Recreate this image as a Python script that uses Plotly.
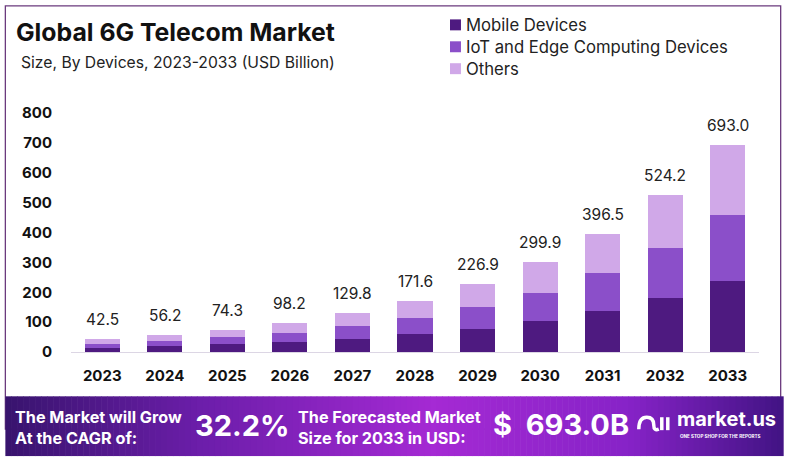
import plotly.graph_objects as go

years = ["2023", "2024", "2025", "2026", "2027", "2028", "2029", "2030", "2031", "2032", "2033"]
mobile = [14.6, 19.3, 25.5, 33.7, 44.5, 58.9, 77.8, 102.9, 136.0, 179.8, 237.7]
iot = [13.6, 18.0, 23.8, 31.4, 41.5, 54.9, 72.6, 96.0, 126.9, 167.7, 221.8]
others = [14.3, 18.9, 25.0, 33.1, 43.8, 57.8, 76.5, 101.0, 133.6, 176.7, 233.5]
totals = [42.5, 56.2, 74.3, 98.2, 129.8, 171.6, 226.9, 299.9, 396.5, 524.2, 693.0]
y_ticks = [0, 100, 200, 300, 400, 500, 600, 700, 800]
series_names = ["Mobile Devices", "IoT and Edge Computing Devices", "Others"]
colors = ["#4e1a80", "#8b4fc9", "#d0a8e8"]

W, H = 790, 463
ML, MR, MT, MB = 70.7, 30.7, 112.5, 110.5
PW = W - ML - MR
PH = H - MT - MB


def px(x):
    return (x - ML) / PW


def py(y):
    return (H - MB - y) / PH


FONT = "Inter"
fig = go.Figure()
for name, vals, col in zip(series_names, [mobile, iot, others], colors):
    fig.add_trace(go.Bar(x=years, y=vals, name=name, marker=dict(color=col, line=dict(width=0)),
                         width=0.56, showlegend=False))

annotations = []
for i, t in enumerate(totals):
    annotations.append(dict(x=i, y=t, xref="x", yref="y", text=f"{t:.1f}", showarrow=False,
                            yanchor="bottom", yshift=8, font=dict(family=FONT, size=15.5, color="#222222")))

# Title & subtitle
annotations.append(dict(x=px(14), y=py(31), xref="paper", yref="paper", xanchor="left", yanchor="middle",
                        text="<b>Global 6G Telecom Market</b>", showarrow=False,
                        font=dict(family=FONT, size=24.8, color="#111111")))
annotations.append(dict(x=px(19), y=py(62), xref="paper", yref="paper", xanchor="left", yanchor="middle",
                        text="Size, By Devices, 2023-2033 (USD Billion)", showarrow=False,
                        font=dict(family=FONT, size=15.7, color="#222222")))

shapes = []
# Manual legend
for i, (name, col) in enumerate(zip(series_names, colors)):
    yc = 24 + 22 * i
    shapes.append(dict(type="rect", xref="paper", yref="paper", x0=px(450), x1=px(461),
                       y0=py(yc - 5.5), y1=py(yc + 5.5), fillcolor=col, line=dict(width=0)))
    annotations.append(dict(x=px(464), y=py(yc), xref="paper", yref="paper", xanchor="left", yanchor="middle",
                            text=name, showarrow=False, font=dict(family=FONT, size=16.7, color="#222222")))

# Frame
shapes.append(dict(type="rect", xref="paper", yref="paper", x0=px(5), x1=px(781), y0=py(5), y1=py(430),
                   line=dict(color="#6b3a7d", width=1.3), fillcolor="rgba(0,0,0,0)", layer="below"))

# Banner gradient
stops = [(0.0, (56, 20, 110)), (0.25, (108, 30, 170)), (0.55, (165, 42, 212)), (0.8, (135, 35, 200)),
         (1.0, (66, 20, 132))]


def grad(t):
    for (a, ca), (b, cb) in zip(stops[:-1], stops[1:]):
        if a <= t <= b:
            f = (t - a) / (b - a)
            c = [int(ca[k] + (cb[k] - ca[k]) * f) for k in range(3)]
            return f"rgb({c[0]},{c[1]},{c[2]})"
    return "rgb(66,20,132)"


N = 130
bx0, bx1 = 5, 784
for i in range(N):
    x0 = bx0 + (bx1 - bx0) * i / N
    x1 = bx0 + (bx1 - bx0) * (i + 1) / N + 0.6
    shapes.append(dict(type="rect", xref="paper", yref="paper", x0=px(x0), x1=px(min(x1, bx1)),
                       y0=py(397), y1=py(457), fillcolor=grad((i + 0.5) / N), line=dict(width=0)))

# Banner texts
annotations.append(dict(x=px(13), y=py(428), xref="paper", yref="paper", xanchor="left", yanchor="middle",
                        align="left", text="<b>The Market will Grow<br>At the CAGR of:</b>", showarrow=False,
                        font=dict(family=FONT, size=16.2, color="white")))
annotations.append(dict(x=px(193), y=py(426), xref="paper", yref="paper", xanchor="left", yanchor="middle",
                        text="<b>32.2%</b>", showarrow=False, font=dict(family=FONT, size=29, color="white")))
annotations.append(dict(x=px(296), y=py(428), xref="paper", yref="paper", xanchor="left", yanchor="middle",
                        align="left", text="<b>The Forecasted Market<br>Size for 2033 in USD:</b>", showarrow=False,
                        font=dict(family=FONT, size=16.2, color="white")))
annotations.append(dict(x=px(491), y=py(425), xref="paper", yref="paper", xanchor="left", yanchor="middle",
                        text="<b>$&nbsp; 693.0B</b>", showarrow=False, font=dict(family=FONT, size=29, color="white")))
annotations.append(dict(x=px(675), y=py(420), xref="paper", yref="paper", xanchor="left", yanchor="middle",
                        text="<b>market.us</b>", showarrow=False, font=dict(family=FONT, size=20, color="white")))
annotations.append(dict(x=px(678), y=py(437), xref="paper", yref="paper", xanchor="left", yanchor="middle",
                        text="<b>ONE STOP SHOP FOR THE REPORTS</b>", showarrow=False,
                        font=dict(family=FONT, size=4.6, color="white")))

# Logo glyph
def P(x, y):
    return f"{px(x):.5f},{py(y):.5f}"


logo_path = (f"M {P(639, 430)} Q {P(639, 418)} {P(647, 418)} Q {P(654, 418)} {P(654, 426)} "
             f"Q {P(654, 432)} {P(659, 430)}")
shapes.append(dict(type="path", xref="paper", yref="paper", path=logo_path,
                   line=dict(color="white", width=3.5)))
shapes.append(dict(type="line", xref="paper", yref="paper", x0=px(662), x1=px(662), y0=py(418), y1=py(431),
                   line=dict(color="white", width=3.5)))
shapes.append(dict(type="line", xref="paper", yref="paper", x0=px(668), x1=px(668), y0=py(418), y1=py(431),
                   line=dict(color="white", width=3.5)))

fig.update_layout(
    width=W, height=H,
    margin=dict(l=ML, r=MR, t=MT, b=MB, pad=0),
    barmode="stack",
    bargap=0.44,
    plot_bgcolor="white", paper_bgcolor="white",
    annotations=annotations, shapes=shapes,
    xaxis=dict(type="category", range=[-0.5, len(years) - 0.5], showgrid=False, showline=True,
               linecolor="#dcd6e4", linewidth=1.2, ticks="",
               tickfont=dict(family=FONT, size=15, color="#111111"), ticklabelstandoff=10,
               tickprefix="<b>", ticksuffix="</b>", fixedrange=True),
    yaxis=dict(range=[0, 800], showgrid=False, zeroline=False, showline=False, tickvals=y_ticks,
               ticktext=[f"<b>{v}</b>" for v in y_ticks], ticklabelstandoff=18,
               tickfont=dict(family=FONT, size=15, color="#111111"), fixedrange=True),
    font=dict(family=FONT),
)

fig.write_html("out.html", config={"displayModeBar": False},
               post_script="document.body.style.margin='0';document.body.style.overflow='hidden';")
